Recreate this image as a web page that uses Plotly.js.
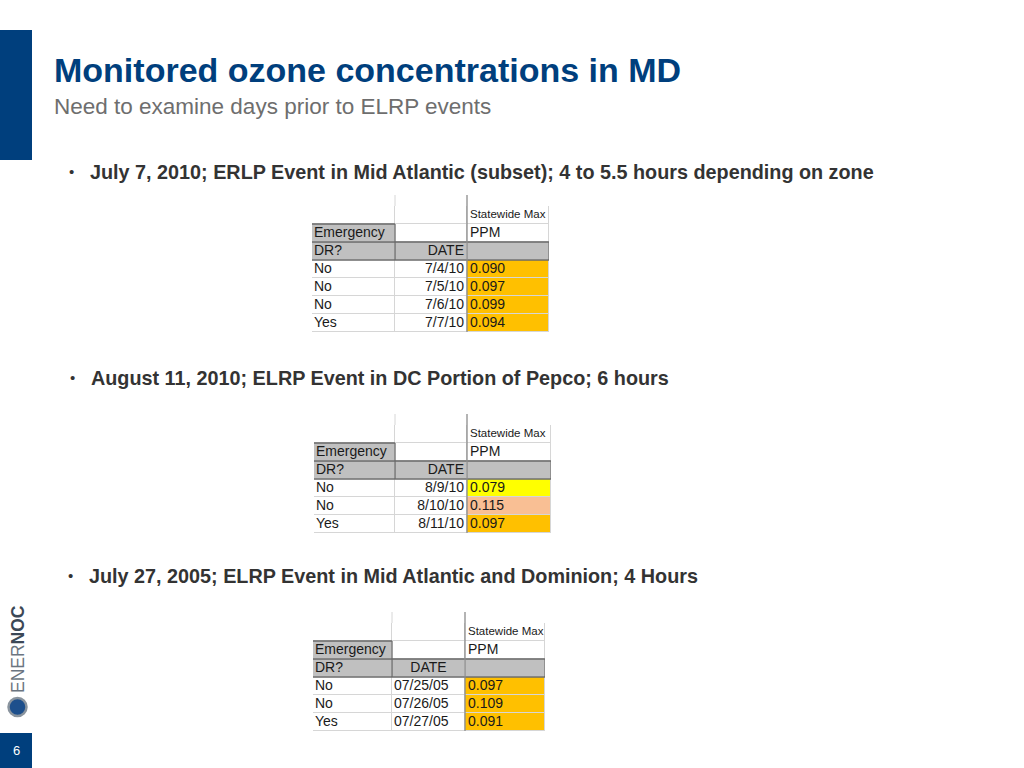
<!DOCTYPE html>
<html><head><meta charset="utf-8">
<script src="https://cdn.plot.ly/plotly-3.0.1.min.js"></script>
<style>html,body{margin:0;padding:0;background:#fff}#chart{width:1024px;height:768px}</style>
</head><body><div id="chart"></div>
<script>
// ---- data ----
var slideTitle = 'Monitored ozone concentrations in MD';
var slideSubtitle = 'Need to examine days prior to ELRP events';
var bullets = [
  'July 7, 2010; ERLP Event in Mid Atlantic (subset); 4 to 5.5 hours depending on zone',
  'August 11, 2010; ELRP Event in DC Portion of Pepco; 6 hours',
  'July 27, 2005; ELRP Event in Mid Atlantic and Dominion; 4 Hours'
];
var ev1Dr = ['No', 'No', 'No', 'Yes'];
var ev1Dates = ['7/4/10', '7/5/10', '7/6/10', '7/7/10'];
var ev1Ppm = ['0.090', '0.097', '0.099', '0.094'];
var ev2Dr = ['No', 'No', 'Yes'];
var ev2Dates = ['8/9/10', '8/10/10', '8/11/10'];
var ev2Ppm = ['0.079', '0.115', '0.097'];
var ev3Dr = ['No', 'No', 'Yes'];
var ev3Dates = ['07/25/05', '07/26/05', '07/27/05'];
var ev3Ppm = ['0.097', '0.109', '0.091'];
var headRow0 = ['', '', 'Statewide Max'];
var headRow1 = ['Emergency', '', 'PPM'];
var headRow2 = ['DR?', 'DATE', ''];
var pageNumber = '6';

// ---- styling helpers ----
var W = 1024, H = 768;
function px(x){ return x / W; }
function py(y){ return 1 - y / H; }
var FONT = 'Liberation Sans, Arial, sans-serif';
var BLUE = '#003f7d';
// fill codes: 0 white, 1 gray header, 2 orange, 3 yellow, 4 salmon
var fillScale = [[0, '#ffffff'], [0.25, '#c0c0c0'], [0.5, '#ffc000'], [0.75, '#ffff00'], [1, '#f9bf94']];

var data = [];
var shapes = [];
var layout = {
  width: W, height: H,
  margin: {l: 0, r: 0, t: 0, b: 0, pad: 0},
  paper_bgcolor: '#ffffff', plot_bgcolor: '#d6d6d6',
  showlegend: false
};

function addTable(k, dr, dates, ppm, ppmCodes, box, widths, dateAlign) {
  var rowH = 18;
  var cols = [
    [headRow0[0], headRow1[0], headRow2[0]].concat(dr),
    [headRow0[1], headRow1[1], headRow2[1]].concat(dates),
    [headRow0[2], headRow1[2], headRow2[2]].concat(ppm)
  ];
  var n = cols[0].length;
  var xe = [0, widths[0], widths[0] + widths[1], widths[0] + widths[1] + widths[2]];
  var ye = [];
  for (var r = 0; r <= n; r++) ye.push(r * rowH);
  var z = [];
  for (var i = 0; i < n; i++) {
    z.push([
      (i === 1 || i === 2) ? 1 : 0,
      i === 2 ? 1 : 0,
      i === 2 ? 1 : (i >= 3 ? ppmCodes[i - 3] : 0)
    ]);
  }
  var xa = 'x' + (k === 1 ? '' : k), ya = 'y' + (k === 1 ? '' : k);
  data.push({type: 'heatmap', x: xe, y: ye, z: z, colorscale: fillScale, zmin: 0, zmax: 4,
             showscale: false, xgap: 1, ygap: 1, hoverinfo: 'skip', xaxis: xa, yaxis: ya});
  var yc = [];
  for (var j = 0; j < n; j++) yc.push((j + 0.5) * rowH);
  // column 1: left aligned
  data.push({type: 'scatter', mode: 'text', x: cols[0].map(function(){ return xe[0] + 2; }), y: yc,
             text: cols[0], textposition: 'middle right', cliponaxis: false,
             textfont: {family: FONT, size: 14, color: '#1a1a1a'}, hoverinfo: 'skip', xaxis: xa, yaxis: ya});
  // column 2: dates
  var x2 = [], pos2 = [];
  for (var m = 0; m < n; m++) {
    if (dateAlign === 'right') { x2.push(xe[2] - 3); pos2.push('middle left'); }
    else if (m === 2) { x2.push((xe[1] + xe[2]) / 2); pos2.push('middle center'); }
    else { x2.push(xe[1] + 2); pos2.push('middle right'); }
  }
  data.push({type: 'scatter', mode: 'text', x: x2, y: yc, text: cols[1], textposition: pos2, cliponaxis: false,
             textfont: {family: FONT, size: 14, color: '#1a1a1a'}, hoverinfo: 'skip', xaxis: xa, yaxis: ya});
  // column 3: values
  var s3 = cols[2].map(function(v, q){ return q === 0 ? 11.5 : 14; });
  data.push({type: 'scatter', mode: 'text', x: cols[2].map(function(){ return xe[2] + 3; }), y: yc,
             text: cols[2], textposition: 'middle right', cliponaxis: false,
             textfont: {family: FONT, size: s3, color: '#1a1a1a'}, hoverinfo: 'skip', xaxis: xa, yaxis: ya});

  var axX = {domain: [px(box[0]), px(box[0] + xe[3])], range: [0, xe[3]], visible: false, fixedrange: true,
             anchor: ya};
  var axY = {domain: [py(box[1] + n * rowH), py(box[1])], range: [n * rowH, 0], visible: false, fixedrange: true,
             anchor: xa};
  layout['xaxis' + (k === 1 ? '' : k)] = axX;
  layout['yaxis' + (k === 1 ? '' : k)] = axY;

  // darker borders around the grey header block and column divider
  var dark = '#6a6a6a';
  shapes.push({type: 'line', xref: xa, yref: ya, x0: 0, x1: xe[1], y0: rowH, y1: rowH, line: {color: dark, width: 1.3}});
  shapes.push({type: 'line', xref: xa, yref: ya, x0: xe[1], x1: xe[1], y0: rowH, y1: 3 * rowH, line: {color: dark, width: 1.3}});
  shapes.push({type: 'line', xref: xa, yref: ya, x0: 0, x1: xe[3], y0: 2 * rowH, y1: 2 * rowH, line: {color: dark, width: 1.3}});
  shapes.push({type: 'line', xref: xa, yref: ya, x0: 0, x1: xe[3], y0: 3 * rowH, y1: 3 * rowH, line: {color: dark, width: 1.3}});
  shapes.push({type: 'line', xref: xa, yref: ya, x0: xe[2], x1: xe[2], y0: 0, y1: n * rowH, line: {color: '#8c8c8c', width: 1.3}});
  shapes.push({type: 'line', xref: xa, yref: ya, x0: xe[3], x1: xe[3], y0: 2 * rowH, y1: 3 * rowH, line: {color: dark, width: 1.3}});
  // grid lines running above the top of the sheet crop
  shapes.push({type: 'line', xref: 'paper', yref: 'paper', x0: px(box[0] + xe[1]), x1: px(box[0] + xe[1]),
               y0: py(box[1]), y1: py(box[1] - 11), line: {color: '#d6d6d6', width: 1}});
  shapes.push({type: 'line', xref: 'paper', yref: 'paper', x0: px(box[0] + xe[2]), x1: px(box[0] + xe[2]),
               y0: py(box[1]), y1: py(box[1] - 11), line: {color: '#8c8c8c', width: 1.3}});
}

addTable(1, ev1Dr, ev1Dates, ev1Ppm, [2, 2, 2, 2], [312, 206], [83, 72, 82], 'right');
addTable(2, ev2Dr, ev2Dates, ev2Ppm, [3, 4, 2], [314, 425], [81, 72, 84], 'right');
addTable(3, ev3Dr, ev3Dates, ev3Ppm, [2, 2, 2], [313, 623], [79, 73, 80], 'left');

shapes.push(
  {type: 'rect', xref: 'paper', yref: 'paper', x0: px(0), x1: px(32), y0: py(160), y1: py(30),
   fillcolor: BLUE, line: {width: 0}},
  {type: 'rect', xref: 'paper', yref: 'paper', x0: px(0), x1: px(32), y0: py(768), y1: py(733),
   fillcolor: BLUE, line: {width: 0}},
  {type: 'circle', xref: 'paper', yref: 'paper', x0: px(8.5), x1: px(26.5), y0: py(716), y1: py(698),
   fillcolor: '#1d4f8c', line: {color: '#8a949e', width: 2.5}}
);

var annotations = [
  {text: '<b>' + slideTitle + '</b>', x: px(52), y: py(70), xref: 'paper', yref: 'paper',
   xanchor: 'left', yanchor: 'middle', showarrow: false,
   font: {family: FONT, size: 34, color: BLUE}},
  {text: slideSubtitle, x: px(52), y: py(106), xref: 'paper', yref: 'paper',
   xanchor: 'left', yanchor: 'middle', showarrow: false,
   font: {family: FONT, size: 22.5, color: '#6e6e6e'}},
  {text: pageNumber, x: px(16), y: py(750), xref: 'paper', yref: 'paper',
   xanchor: 'center', yanchor: 'middle', showarrow: false,
   font: {family: FONT, size: 13, color: '#ffffff'}},
  {text: '<span style="color:#6b7580">ENER</span><b>NOC</b>', x: px(18), y: py(649), xref: 'paper', yref: 'paper',
   textangle: -90, xanchor: 'center', yanchor: 'middle', showarrow: false,
   font: {family: FONT, size: 17.5, color: '#3c4856'}}
];
var bulletY = [172, 378, 576];
var bulletX = [90, 91, 89];
for (var b = 0; b < bullets.length; b++) {
  annotations.push({text: '•', x: px(bulletX[b] - 23), y: py(bulletY[b] - 1), xref: 'paper', yref: 'paper',
    xanchor: 'left', yanchor: 'middle', showarrow: false,
    font: {family: FONT, size: 15, color: '#333333'}});
  annotations.push({text: '<b>' + bullets[b] + '</b>', x: px(bulletX[b] - 2), y: py(bulletY[b]), xref: 'paper', yref: 'paper',
    xanchor: 'left', yanchor: 'middle', showarrow: false,
    font: {family: FONT, size: 19.8, color: '#333333'}});
}
layout.shapes = shapes;
layout.annotations = annotations;

Plotly.newPlot('chart', data, layout, {displayModeBar: false, staticPlot: true});
</script></body></html>
